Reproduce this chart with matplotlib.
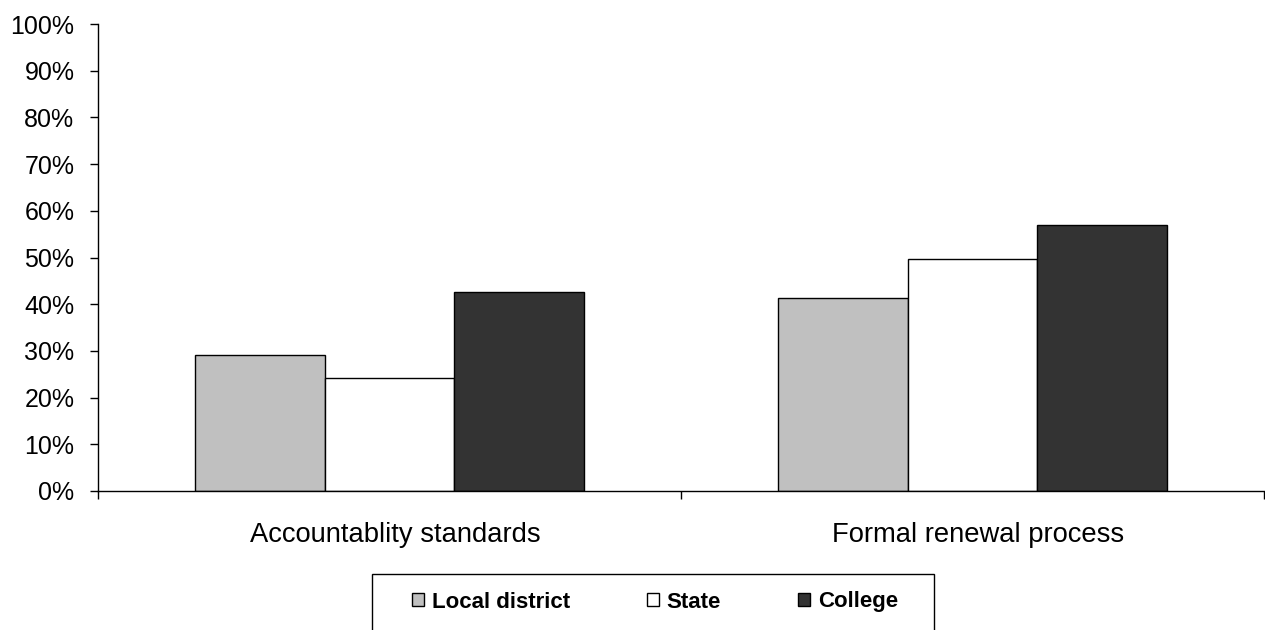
import numpy as np
import matplotlib
matplotlib.use('Agg')
import matplotlib.pyplot as plt
from matplotlib.patches import Rectangle
from matplotlib.ticker import PercentFormatter
from matplotlib.transforms import ScaledTranslation

plt.rcParams['font.family'] = ['Liberation Sans', 'DejaVu Sans']

categories = ['Accountablity standards', 'Formal renewal process']
series_names = ['Local district', 'State', 'College']
local_district = [0.291, 0.413]
state = [0.243, 0.497]
college = [0.426, 0.570]
colors = ['#c0c0c0', '#ffffff', '#333333']

fig = plt.figure(figsize=(12.65, 6.3), dpi=100)
ax = fig.add_axes([98 / 1265, 139 / 630, 1166 / 1265, 467 / 630])

x = np.arange(len(categories))
width = 0.222
for i, (vals, name, col) in enumerate(zip([local_district, state, college], series_names, colors)):
    ax.bar(x + (i - 1) * width, vals, width, color=col, edgecolor='black',
           linewidth=1, label=name)

ax.set_xlim(-0.5, len(categories) - 0.5)
ax.set_ylim(0, 1)
ax.set_yticks(np.arange(0, 1.01, 0.1))
ax.yaxis.set_major_formatter(PercentFormatter(1.0, decimals=0))
ax.tick_params(axis='y', direction='out', length=6, width=1, pad=11, labelsize=18)

# boundary ticks between categories, labels centred on the groups
ax.set_xticks(np.arange(-0.5, len(categories), 1.0))
ax.set_xticklabels([])
ax.tick_params(axis='x', which='major', direction='out', length=6, width=1)
ax.set_xticks(x, minor=True)
ax.set_xticklabels(categories, minor=True)
ax.tick_params(axis='x', which='minor', length=0, pad=22, labelsize=19.7)
nudge = ScaledTranslation(0.06, 0, fig.dpi_scale_trans)
for lbl in ax.get_xticklabels(minor=True):
    lbl.set_transform(lbl.get_transform() + nudge)

for side in ['top', 'right']:
    ax.spines[side].set_visible(False)
for side in ['left', 'bottom']:
    ax.spines[side].set_linewidth(1)

leg = fig.legend(loc='center', bbox_to_anchor=(655 / 1265, 1 - 602 / 630), ncol=3,
                 frameon=False, prop={'weight': 'bold', 'size': 16},
                 handlelength=0.54, handleheight=0.54, handletextpad=0.36,
                 columnspacing=3.45, borderaxespad=0)

fig.add_artist(Rectangle((372 / 1265, -0.05), (934 - 372) / 1265, 0.05 + 56 / 630,
                         transform=fig.transFigure, fill=False, edgecolor='black',
                         linewidth=1, clip_on=False))

fig.savefig('out.png', dpi=100)
